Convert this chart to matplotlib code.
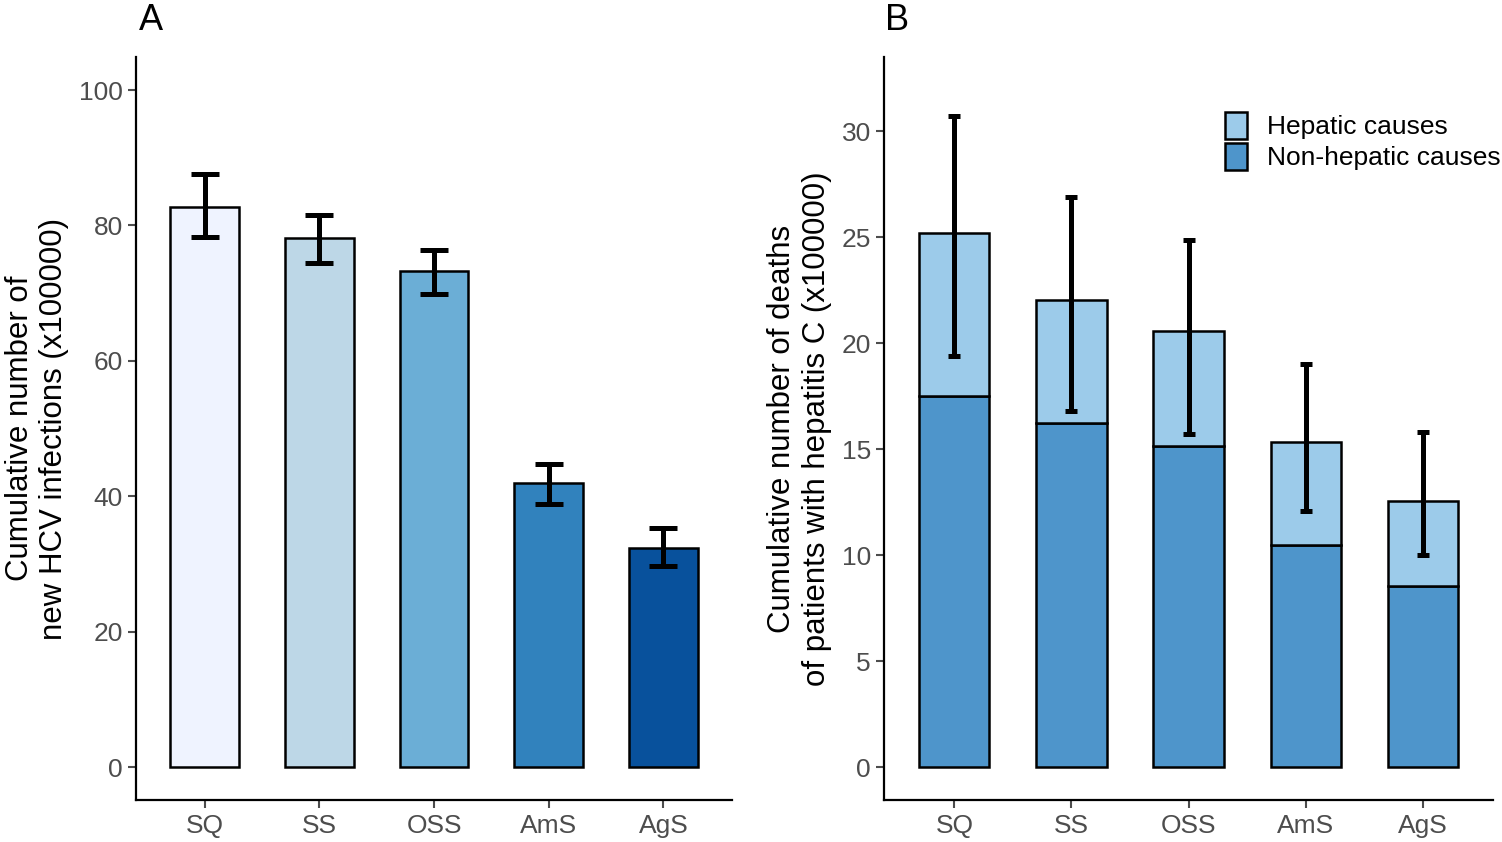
import numpy as np
import matplotlib
matplotlib.use('Agg')
import matplotlib.pyplot as plt
from matplotlib.patches import Patch

plt.rcParams['font.family'] = ['Liberation Sans', 'DejaVu Sans']

# Panel A data
escenarios = ['SQ', 'SS', 'OSS', 'AmS', 'AgS']
infecciones = [82.7, 78.1, 73.3, 41.9, 32.3]
inf_bajo = [78.3, 74.4, 69.9, 38.8, 29.7]
inf_alto = [87.6, 81.5, 76.4, 44.8, 35.3]
colores_a = ['#eff3ff', '#bdd7e7', '#6baed6', '#3182bd', '#08519c']

# Panel B data
no_hepaticas = [17.5, 16.25, 15.15, 10.45, 8.55]
totales = [25.2, 22.05, 20.55, 15.35, 12.55]
muertes_bajo = [19.4, 16.8, 15.7, 12.1, 10.0]
muertes_alto = [30.7, 26.9, 24.85, 19.0, 15.8]
hepaticas = [t - n for t, n in zip(totales, no_hepaticas)]

col_hep = '#9ccbea'
col_nohep = '#4e95cb'
gris = '#4d4d4d'

fig = plt.figure(figsize=(15.02, 8.42), dpi=100)
ax1 = fig.add_axes([0.0905, 0.0495, 0.397, 0.883])
ax2 = fig.add_axes([0.5886, 0.0495, 0.4055, 0.883])

x = np.arange(len(escenarios))


def estilo(ax):
    for s in ['top', 'right']:
        ax.spines[s].set_visible(False)
    for s in ['left', 'bottom']:
        ax.spines[s].set_linewidth(1.6)
        ax.spines[s].set_color('black')
    ax.tick_params(axis='both', colors=gris, labelsize=19, width=1.5, length=6, labelcolor=gris)
    ax.set_xticks(x)
    ax.set_xticklabels(escenarios)
    ax.set_xlim(-0.6, 4.6)


# Panel A
ax1.bar(x, infecciones, width=0.6, color=colores_a, edgecolor='black', linewidth=1.8, zorder=2)
err_a = [np.array(infecciones) - np.array(inf_bajo), np.array(inf_alto) - np.array(infecciones)]
ax1.errorbar(x, infecciones, yerr=err_a, fmt='none', ecolor='black', elinewidth=3.6,
             capsize=10, capthick=3.6, zorder=3)
ax1.set_ylim(-4.9, 104.9)
ax1.set_yticks([0, 20, 40, 60, 80, 100])
ax1.set_ylabel('Cumulative number of\nnew HCV infections (x100000)', fontsize=22.5, labelpad=7)
estilo(ax1)
ax1.text(0.025, 1.025, 'A', transform=ax1.transAxes, fontsize=26, va='bottom', ha='center')

# Panel B
ax2.bar(x, no_hepaticas, width=0.6, color=col_nohep, edgecolor='black', linewidth=1.8,
        zorder=2, label='Non-hepatic causes')
ax2.bar(x, hepaticas, width=0.6, bottom=no_hepaticas, color=col_hep, edgecolor='black',
        linewidth=1.8, zorder=2, label='Hepatic causes')
err_b = [np.array(totales) - np.array(muertes_bajo), np.array(muertes_alto) - np.array(totales)]
ax2.errorbar(x, totales, yerr=err_b, fmt='none', ecolor='black', elinewidth=3.6,
             capsize=4, capthick=3.6, zorder=3)
ax2.set_ylim(-1.57, 33.5)
ax2.set_yticks([0, 5, 10, 15, 20, 25, 30])
ax2.set_ylabel('Cumulative number of deaths\nof patients with hepatitis C (x100000)',
               fontsize=22.5, labelpad=7)
estilo(ax2)
ax2.text(0.022, 1.025, 'B', transform=ax2.transAxes, fontsize=26, va='bottom', ha='center')

handles = [Patch(facecolor=col_hep, edgecolor='black', linewidth=1.8, label='Hepatic causes'),
           Patch(facecolor=col_nohep, edgecolor='black', linewidth=1.8, label='Non-hepatic causes')]
ax2.legend(handles=handles, loc='upper right', bbox_to_anchor=(1.03, 0.94), frameon=False,
           fontsize=19, handlelength=0.85, handleheight=1.2, handletextpad=0.75,
           labelspacing=0.13, borderaxespad=0)

fig.savefig('out.png', dpi=100)
